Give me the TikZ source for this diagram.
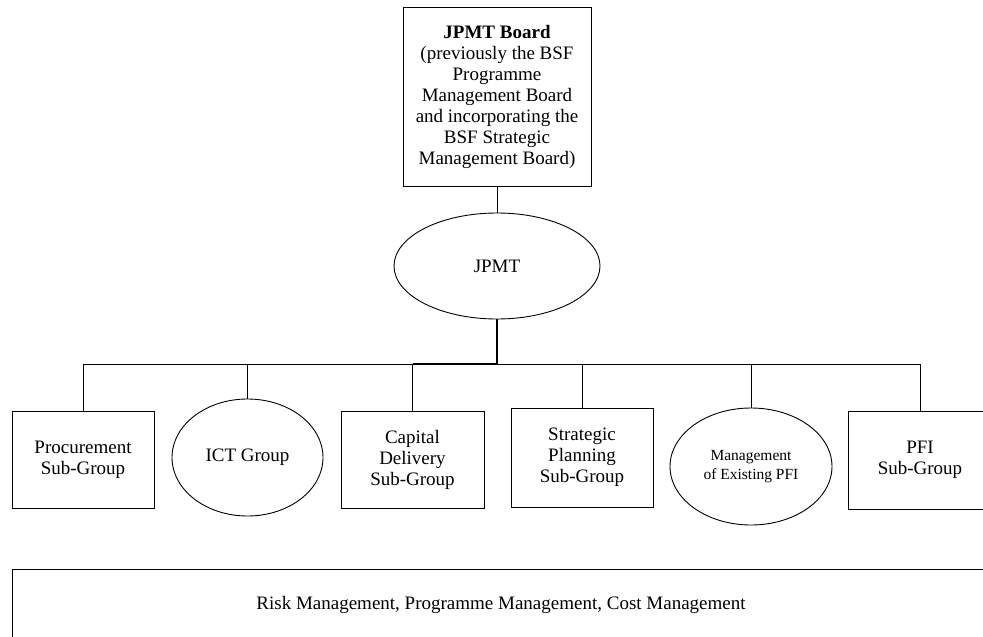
\documentclass[tikz,border=0pt]{standalone}
\usepackage{fontspec}
\setmainfont{Liberation Serif}
\usetikzlibrary{shapes.geometric}

\tikzset{
	box/.style={draw, rectangle, line width=0.9pt, align=center, inner sep=2pt,
		font=\fontsize{19}{21}\selectfont},
	oval/.style={draw, ellipse, line width=0.9pt, align=center, inner sep=0pt,
		font=\fontsize{19}{21}\selectfont},
	link/.style={line width=0.9pt},
	trunk/.style={line width=1.4pt}
}

\begin{document}
\begin{tikzpicture}[x=1pt,y=-1pt]
	\clip (0,0) rectangle (983,637);
	
	\node[box, minimum width=188, minimum height=179] (board) at (497,96.5)
		{\textbf{JPMT Board}\\(previously the BSF\\Programme\\Management Board\\and incorporating the\\BSF Strategic\\Management Board)};
	\node[oval, minimum width=206, minimum height=106] (jpmt) at (497,266) {JPMT};
	\draw[link] (board) -- (jpmt);
	
	\coordinate (bus) at (497,364);
	
	\node[box, minimum width=142, minimum height=97] (proc) at (83,459.5) {Procurement\\Sub-Group};
	\node[oval, minimum width=151, minimum height=117] (ict) at (247.5,457.5) {ICT Group};
	\node[box, minimum width=143, minimum height=97] (cap) at (412.5,459.5) {Capital\\Delivery\\Sub-Group};
	\node[box, minimum width=142, minimum height=99] (strat) at (582,457.5) {Strategic\\Planning\\Sub-Group};
	\node[oval, minimum width=162, minimum height=117, font=\fontsize{15.5}{19}\selectfont] (mpfi) at (751,466.5) {Management\\of Existing PFI};
	\node[box, minimum width=144, minimum height=98] (pfi) at (920,460) {PFI\\Sub-Group};
	
	\draw[trunk] (jpmt) -- (bus);
	\draw[link] (proc.north |- bus) -- (pfi.north |- bus);
	\draw[trunk] (cap.north |- bus) -- (bus);
	\foreach \n in {proc,ict,cap,strat,mpfi,pfi}
		\draw[link] (\n.north |- bus) -- (\n.north);
	
	\node[box, minimum width=978, minimum height=72] (risk) at (501,605)
		{Risk Management, Programme Management, Cost Management};
	
\end{tikzpicture}
\end{document}
